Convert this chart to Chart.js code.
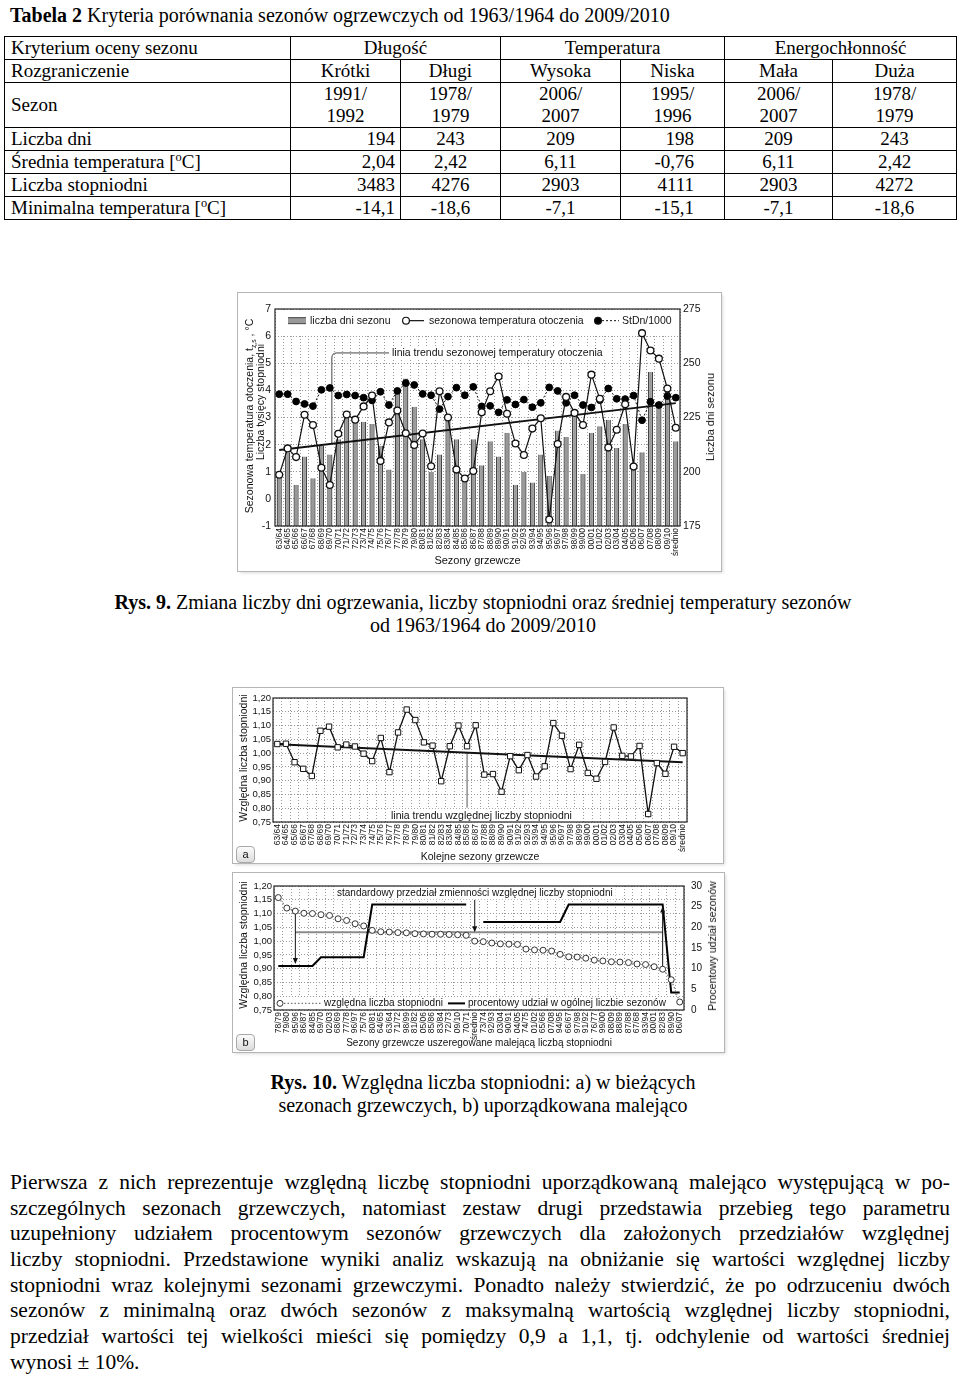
<!DOCTYPE html>
<html lang="pl">
<head>
<meta charset="utf-8">
<title>Sezony grzewcze 1963/1964 - 2009/2010</title>
<script src="https://cdn.jsdelivr.net/npm/chart.js@4.4.1/dist/chart.umd.min.js"></script>
<style>
  html, body { margin: 0; padding: 0; background: #fff; }
  body { width: 960px; height: 1380px; position: relative; overflow: hidden;
         font-family: "Liberation Serif", "Times New Roman", serif; color: #000; }
  .tytul { position: absolute; left: 10px; top: 3px; font-size: 20px; line-height: 24px; white-space: nowrap; }
  table.kryt { position: absolute; left: 4px; top: 36px; width: 952px; table-layout: fixed;
               border-collapse: collapse; font-size: 19px; }
  table.kryt td { border: 1px solid #000; padding: 0 6px; line-height: 22px; text-align: center; white-space: nowrap; }
  table.kryt td.l { text-align: left; }
  table.kryt td.p2 { text-align: right; padding-right: 5px; }
  table.kryt td.p5 { text-align: right; padding-right: 30px; }
  sup, sub { font-size: 65%; line-height: 0; }
  .rys { position: absolute; left: 0; width: 966px; text-align: center; font-size: 20px; line-height: 23px; }
  .fig { position: absolute; background: #fff; box-shadow: 0 0 0 1px #b5b5b5, 2px 2px 3px rgba(0,0,0,.15); }
  .fig canvas { position: absolute; left: 0; top: 0; }
  .vt { position: absolute; transform: translate(-50%, -50%) rotate(-90deg); white-space: nowrap;
        font-family: "Liberation Sans", Arial, sans-serif; color: #111; line-height: 12px; }
  .lit { position: absolute; width: 17px; height: 15px; border: 1px solid #a8a8a8; border-radius: 4px;
         background: linear-gradient(#fbfbfb, #dcdcdc); font: 11px "Liberation Sans", Arial, sans-serif;
         text-align: center; line-height: 15px; color: #111; }
  .akapit { position: absolute; left: 10px; top: 1170px; width: 940px; font-size: 21.5px; }
  .akapit div { height: 25.7px; line-height: 25.7px; text-align: justify; text-align-last: justify; }
  .akapit div.ost { text-align-last: left; }
</style>
</head>
<body>

<div class="tytul"><b>Tabela 2</b> Kryteria porównania sezonów ogrzewczych od 1963/1964 do 2009/2010</div>

<table class="kryt">
  <colgroup>
    <col style="width:286px"><col style="width:110px"><col style="width:100px"><col style="width:120px">
    <col style="width:104px"><col style="width:108px"><col style="width:124px">
  </colgroup>
  <tr style="height:22px"><td class="l">Kryterium oceny sezonu</td><td colspan="2">Długość</td><td colspan="2">Temperatura</td><td colspan="2">Energochłonność</td></tr>
  <tr style="height:23px"><td class="l">Rozgraniczenie</td><td>Krótki</td><td>Długi</td><td>Wysoka</td><td>Niska</td><td>Mała</td><td>Duża</td></tr>
  <tr style="height:44px"><td class="l">Sezon</td><td>1991/<br>1992</td><td>1978/<br>1979</td><td>2006/<br>2007</td><td>1995/<br>1996</td><td>2006/<br>2007</td><td>1978/<br>1979</td></tr>
  <tr style="height:22px"><td class="l">Liczba dni</td><td class="p2">194</td><td>243</td><td>209</td><td class="p5">198</td><td>209</td><td>243</td></tr>
  <tr style="height:23px"><td class="l">Średnia temperatura [<sup>o</sup>C]</td><td class="p2">2,04</td><td>2,42</td><td>6,11</td><td class="p5">-0,76</td><td>6,11</td><td>2,42</td></tr>
  <tr style="height:22px"><td class="l">Liczba stopniodni</td><td class="p2">3483</td><td>4276</td><td>2903</td><td class="p5">4111</td><td>2903</td><td>4272</td></tr>
  <tr style="height:23px"><td class="l">Minimalna temperatura [<sup>o</sup>C]</td><td class="p2">-14,1</td><td>-18,6</td><td>-7,1</td><td class="p5">-15,1</td><td>-7,1</td><td>-18,6</td></tr>
</table>

<div class="fig" style="left:238px;top:293px;width:483px;height:278px;">
  <canvas id="wyk1" width="483" height="278"></canvas>
  <div class="vt" style="left:11px;top:123px;font-size:10.5px;">Sezonowa temperatura otoczenia, t<sub>z,s</sub> , °C</div>
  <div class="vt" style="left:22px;top:109px;font-size:10.5px;">Liczba tysięcy stopniodni</div>
  <div class="vt" style="left:472px;top:124px;font-size:11px;">Liczba dni sezonu</div>
</div>

<div class="rys" style="top:591px;"><b>Rys. 9.</b> Zmiana liczby dni ogrzewania, liczby stopniodni oraz średniej temperatury sezonów<br>od 1963/1964 do 2009/2010</div>

<div class="fig" style="left:233px;top:688px;width:490px;height:175px;">
  <canvas id="wyk2" width="490" height="175"></canvas>
  <div class="vt" style="left:10px;top:70px;font-size:10.5px;">Względna liczba stopniodni</div>
  <div class="lit" style="left:3px;top:158px;">a</div>
</div>

<div class="fig" style="left:233px;top:873px;width:491px;height:179px;">
  <canvas id="wyk3" width="491" height="179"></canvas>
  <div class="vt" style="left:10px;top:72px;font-size:10.5px;">Względna liczba stopniodni</div>
  <div class="vt" style="left:479px;top:73px;font-size:10.5px;">Procentowy udział sezonów</div>
  <div class="lit" style="left:3px;top:161px;">b</div>
</div>

<div class="rys" style="top:1071px;"><b>Rys. 10.</b> Względna liczba stopniodni: a) w bieżących<br>sezonach grzewczych, b) uporządkowana malejąco</div>

<div class="akapit">
  <div>Pierwsza z nich reprezentuje względną liczbę stopniodni uporządkowaną malejąco występującą w po-</div>
  <div>szczególnych sezonach grzewczych, natomiast zestaw drugi przedstawia przebieg tego parametru</div>
  <div>uzupełniony udziałem procentowym sezonów grzewczych dla założonych przedziałów względnej</div>
  <div>liczby stopniodni. Przedstawione wyniki analiz wskazują na obniżanie się wartości względnej liczby</div>
  <div>stopniodni wraz kolejnymi sezonami grzewczymi. Ponadto należy stwierdzić, że po odrzuceniu dwóch</div>
  <div>sezonów z minimalną oraz dwóch sezonów z maksymalną wartością względnej liczby stopniodni,</div>
  <div>przedział wartości tej wielkości mieści się pomiędzy 0,9 a 1,1, tj. odchylenie od wartości średniej</div>
  <div class="ost">wynosi ± 10%.</div>
</div>

<script>
    "use strict";

    // sezony grzewcze po kolei + wartość średnia
    var sezony = ["63/64", "64/65", "65/66", "66/67", "67/68", "68/69", "69/70", "70/71", "71/72", "72/73",
        "73/74", "74/75", "75/76", "76/77", "77/78", "78/79", "79/80", "80/81", "81/82", "82/83",
        "83/84", "84/85", "85/86", "86/87", "87/88", "88/89", "89/90", "90/91", "91/92", "92/93",
        "93/94", "94/95", "95/96", "96/97", "97/98", "98/99", "99/00", "00/01", "01/02", "02/03",
        "03/04", "04/05", "05/06", "06/07", "07/08", "08/09", "09/10", "średnio"];

    // Rys. 9 - liczba dni sezonu (oś prawa)
    var dniSezonu = [199, 209, 194, 207, 197, 212, 208, 215, 225, 223,
        223, 222, 212, 201, 236, 243, 230, 215, 200, 208,
        224, 215, 197, 215, 203, 214, 207, 218, 194, 200,
        195, 208, 198, 219, 216, 227, 199, 218, 221, 224,
        211, 222, 201, 209, 246, 231, 237, 214];

    // Rys. 9 - sezonowa temperatura otoczenia [oC]
    var tempSezonu = [0.89, 1.86, 1.54, 3.10, 2.72, 1.15, 0.51, 2.40, 3.11, 2.92,
        3.41, 3.81, 1.40, 2.82, 3.26, 2.42, 1.99, 2.41, 1.20, 3.97,
        3.00, 1.08, 0.75, 1.03, 3.19, 3.97, 4.51, 3.14, 2.04, 1.62,
        2.59, 2.97, -0.76, 2.02, 3.76, 3.17, 2.72, 4.58, 3.69, 1.89,
        2.55, 3.49, 1.19, 6.11, 5.47, 5.17, 4.07, 2.62];

    // Rys. 9 - liczba stopniodni / 1000
    var stdn1000 = [3.86, 3.86, 3.59, 3.50, 3.42, 4.02, 4.09, 3.81, 3.85, 3.81,
        3.73, 3.63, 3.95, 3.46, 3.98, 4.27, 4.20, 3.87, 3.82, 3.31,
        3.77, 4.10, 3.82, 4.13, 3.41, 3.43, 3.19, 3.65, 3.48, 3.66,
        3.38, 3.54, 4.11, 3.98, 3.54, 3.82, 3.46, 3.37, 3.64, 4.07,
        3.69, 3.68, 3.81, 2.90, 3.58, 3.46, 3.79, 3.73];

    // linia trendu temperatury - poczatek i koniec
    var trendTemp = [1.80, 3.53];

    // Rys. 10a - względna liczba stopniodni w kolejnych sezonach
    var wzglednaStDn = [1.033, 1.034, 0.967, 0.943, 0.917, 1.081, 1.096, 1.021, 1.031, 1.024,
        0.998, 0.971, 1.055, 0.931, 1.075, 1.158, 1.120, 1.039, 1.027, 0.898,
        1.025, 1.100, 1.025, 1.101, 0.922, 0.924, 0.860, 0.989, 0.938, 0.993,
        0.915, 0.952, 1.109, 1.063, 0.942, 1.030, 0.928, 0.907, 0.968, 1.093,
        0.990, 0.988, 1.026, 0.779, 0.964, 0.925, 1.023, 1.000];
    var trendWzgl = [1.032, 0.967];

    // Rys. 10b - sezony uszeregowane malejąco
    var sezonyMalejaco = ["78/79", "79/80", "95/96", "86/87", "84/85", "69/70", "02/03", "68/69", "77/78", "96/97",
        "75/76", "80/81", "64/65", "63/64", "71/72", "98/99", "81/82", "05/06", "85/86", "83/84",
        "72/73", "09/10", "70/71", "średnio", "73/74", "92/93", "03/04", "90/91", "04/05", "74/75",
        "01/02", "65/66", "07/08", "94/95", "66/67", "97/98", "91/92", "76/77", "99/00", "08/09",
        "88/89", "87/88", "67/68", "93/94", "00/01", "82/83", "89/90", "06/07"];
    var wzglednaMalejaco = [1.158, 1.120, 1.109, 1.101, 1.100, 1.096, 1.093, 1.081, 1.075, 1.063,
        1.055, 1.039, 1.034, 1.033, 1.031, 1.030, 1.027, 1.026, 1.025, 1.025,
        1.024, 1.023, 1.021, 1.000, 0.998, 0.993, 0.990, 0.989, 0.988, 0.971,
        0.968, 0.967, 0.964, 0.952, 0.943, 0.942, 0.938, 0.931, 0.928, 0.925,
        0.924, 0.922, 0.917, 0.915, 0.907, 0.898, 0.860, 0.779];
    // procentowy udział w ogólnej liczbie sezonów [%]
    var udzialProc = [10.64, 10.64, 10.64, 10.64, 10.64, 12.77, 12.77, 12.77, 12.77, 12.77,
        12.77, 25.53, 25.53, 25.53, 25.53, 25.53, 25.53, 25.53, 25.53, 25.53,
        25.53, 25.53, 25.53, null, 21.28, 21.28, 21.28, 21.28, 21.28, 21.28,
        21.28, 21.28, 21.28, 21.28, 25.53, 25.53, 25.53, 25.53, 25.53, 25.53,
        25.53, 25.53, 25.53, 25.53, 25.53, 25.53, 4.26, 4.26];
    // standardowy przedział zmienności (poziom odniesienia)
    var przedzialOd = "95/96", przedzialDo = "82/83", przedzialPoziom = 1.032;

    var FONT = '"Liberation Sans", Arial, sans-serif';
    Chart.defaults.font.family = FONT;
    Chart.defaults.color = "#111";
    Chart.defaults.animation = false;
    Chart.defaults.plugins.legend.display = false;
    Chart.defaults.plugins.tooltip.enabled = false;

    var siatka = { color: "#9a9a9a", lineWidth: 1, drawTicks: false };
    var kreski = { display: false, dash: [1, 2] };
    var przecinek = function (v) { return v.toFixed(2).replace(".", ","); };

    // helpers for drawing on canvas
    function napis(c, txt, x, y, size, tlo) {
        c.font = size + "px " + FONT;
        c.textBaseline = "middle";
        c.textAlign = "left";
        if (tlo) {
            var w = c.measureText(txt).width;
            c.fillStyle = "#fff";
            c.fillRect(x - 3, y - size * 0.65, w + 6, size * 1.3);
        }
        c.fillStyle = "#111";
        c.fillText(txt, x, y);
    }
    function kolko(c, x, y, r, fill) {
        c.beginPath();
        c.arc(x, y, r, 0, Math.PI * 2);
        c.fillStyle = fill;
        c.fill();
        c.strokeStyle = "#111";
        c.lineWidth = 1.2;
        c.stroke();
    }
    function strzalka(c, x, y1, y2) {
        var d = y2 > y1 ? 1 : -1;
        c.beginPath();
        c.moveTo(x, y1);
        c.lineTo(x, y2 - d * 5);
        c.stroke();
        c.beginPath();
        c.moveTo(x, y2);
        c.lineTo(x - 2.5, y2 - d * 6);
        c.lineTo(x + 2.5, y2 - d * 6);
        c.closePath();
        c.fill();
    }
    // y of the trend line at pixel px
    function naTrendzie(chart, idx, px) {
        var pts = chart.getDatasetMeta(idx).data;
        var p0 = pts[0], p1 = pts[pts.length - 1];
        return p0.y + (p1.y - p0.y) * (px - p0.x) / (p1.x - p0.x);
    }
    var ramka = {
        id: "ramka",
        afterDraw: function (chart) {
            var a = chart.chartArea, c = chart.ctx;
            c.save();
            c.strokeStyle = "#222";
            c.lineWidth = 1.2;
            c.strokeRect(a.left, a.top, a.right - a.left, a.bottom - a.top);
            c.restore();
        }
    };
    function osX(tytul, size, pad, h) {
        return {
            type: "category",
            offset: true,
            grid: { color: "#9a9a9a", lineWidth: 1, drawTicks: false, offset: true },
            border: kreski,
            ticks: { autoSkip: false, maxRotation: 90, minRotation: 90, font: { size: 8.5 }, padding: 2 },
            title: { display: true, text: tytul, font: { size: size }, padding: { top: 0, bottom: pad } },
            afterFit: function (s) { s.height = h; }
        };
    }

    // Rys. 9
    var opis1 = {
        id: "opis1",
        beforeDatasetsDraw: function (chart) {
            var a = chart.chartArea, c = chart.ctx, yT = chart.scales.yT, x = chart.scales.x;
            c.save();
            c.fillStyle = "#fff";
            c.fillRect(a.left + 1, a.top + 1, a.right - a.left - 2, yT.getPixelForValue(6) - a.top - 1.5);

            var ly = yT.getPixelForValue(6.57);
            c.fillStyle = "#999";
            c.fillRect(a.left + 13, ly - 3, 18, 6);
            c.strokeStyle = "#444";
            c.lineWidth = 1;
            c.beginPath();
            c.moveTo(a.left + 13, ly - 3); c.lineTo(a.left + 31, ly - 3);
            c.moveTo(a.left + 13, ly + 3); c.lineTo(a.left + 31, ly + 3);
            c.stroke();
            napis(c, "liczba dni sezonu", a.left + 35, ly, 10.5);

            c.strokeStyle = "#111";
            c.lineWidth = 1.2;
            c.beginPath(); c.moveTo(a.left + 131, ly); c.lineTo(a.left + 149, ly); c.stroke();
            kolko(c, a.left + 131, ly, 3.4, "#fff");
            napis(c, "sezonowa temperatura otoczenia", a.left + 154, ly, 10.5);

            c.strokeStyle = "#111";
            c.lineWidth = 1;
            c.setLineDash([2, 2]);
            c.beginPath(); c.moveTo(a.left + 323, ly); c.lineTo(a.left + 344, ly); c.stroke();
            c.setLineDash([]);
            kolko(c, a.left + 323, ly, 3.4, "#000");
            napis(c, "StDn/1000", a.left + 347, ly, 10.5);

            // opis linii trendu
            var ty = yT.getPixelForValue(5.38), tx = a.left + 117;
            napis(c, "linia trendu sezonowej temperatury otoczenia", tx, ty, 10.5, true);
            var lx = x.getPixelForValue(6) + 2;
            var tr = naTrendzie(chart, 2, lx);
            c.strokeStyle = "#444";
            c.lineWidth = 1;
            c.beginPath();
            c.moveTo(tx - 3, ty);
            c.lineTo(lx + 5, ty);
            c.quadraticCurveTo(lx, ty, lx, ty + 5);
            c.lineTo(lx, tr);
            c.stroke();
            c.restore();
        }
    };

    new Chart(document.getElementById("wyk1"), {
        data: {
            labels: sezony,
            datasets: [
                {
                    type: "line", label: "sezonowa temperatura otoczenia", data: tempSezonu, yAxisID: "yT", order: 0,
                    borderColor: "#111", borderWidth: 1.2, pointRadius: 3.4, pointBorderWidth: 1.3,
                    pointBackgroundColor: "#fff", pointBorderColor: "#111"
                },
                {
                    type: "line", label: "StDn/1000", data: stdn1000, yAxisID: "yT", order: 1,
                    borderColor: "#111", borderWidth: 1, borderDash: [2, 2], pointRadius: 3.4,
                    pointBackgroundColor: "#000", pointBorderColor: "#000"
                },
                {
                    type: "line", label: "linia trendu", yAxisID: "yT", order: 2,
                    data: [{ x: sezony[0], y: trendTemp[0] }, { x: sezony[sezony.length - 1], y: trendTemp[1] }],
                    borderColor: "#111", borderWidth: 2, pointRadius: 0
                },
                {
                    type: "bar", label: "liczba dni sezonu", data: dniSezonu, yAxisID: "yD", order: 3, base: 175,
                    backgroundColor: "#999", borderColor: "#444",
                    borderWidth: { left: 1.3, right: 1.3, top: 0, bottom: 0 },
                    barPercentage: 0.62, categoryPercentage: 1
                }
            ]
        },
        options: {
            responsive: false,
            layout: { padding: { top: 16 } },
            scales: {
                x: osX("Sezony grzewcze", 11, 3, 45),
                yT: {
                    type: "linear", position: "left", min: -1, max: 7,
                    ticks: { stepSize: 1, autoSkip: false, font: { size: 10.5 }, padding: 4 },
                    grid: siatka, border: kreski,
                    afterFit: function (s) { s.width = 37; }
                },
                yD: {
                    type: "linear", position: "right", min: 175, max: 275,
                    ticks: { stepSize: 25, autoSkip: false, font: { size: 10.5 }, padding: 3 },
                    grid: { display: false, drawTicks: false }, border: { display: false },
                    afterFit: function (s) { s.width = 41; }
                }
            }
        },
        plugins: [opis1, ramka]
    });

    // Rys. 10a
    var opis2 = {
        id: "opis2",
        beforeDatasetsDraw: function (chart) {
            var a = chart.chartArea, c = chart.ctx, y = chart.scales.y, x = chart.scales.x;
            c.save();
            var ty = y.getPixelForValue(0.773), tx = a.left + 118;
            napis(c, "linia trendu względnej liczby stopniodni", tx, ty, 10.5, true);
            var lx = x.getPixelForValue(22);
            c.strokeStyle = "#555";
            c.lineWidth = 1;
            c.beginPath();
            c.moveTo(lx, naTrendzie(chart, 1, lx));
            c.lineTo(lx, ty - 8);
            c.stroke();
            c.restore();
        }
    };

    new Chart(document.getElementById("wyk2"), {
        data: {
            labels: sezony,
            datasets: [
                {
                    type: "line", label: "względna liczba stopniodni", data: wzglednaStDn, order: 0,
                    borderColor: "#111", borderWidth: 1.3, pointStyle: "rect", pointRadius: 3.8,
                    pointBackgroundColor: "#fff", pointBorderColor: "#111", pointBorderWidth: 1
                },
                {
                    type: "line", label: "linia trendu", order: 1,
                    data: [{ x: sezony[0], y: trendWzgl[0] }, { x: sezony[sezony.length - 1], y: trendWzgl[1] }],
                    borderColor: "#111", borderWidth: 2, pointRadius: 0
                }
            ]
        },
        options: {
            responsive: false,
            layout: { padding: { top: 10, right: 36 } },
            scales: {
                x: osX("Kolejne sezony grzewcze", 10.5, 0, 41),
                y: {
                    type: "linear", position: "left", min: 0.75, max: 1.2,
                    ticks: { stepSize: 0.05, autoSkip: false, callback: przecinek, font: { size: 9.5 }, padding: 2 },
                    grid: siatka, border: kreski,
                    afterFit: function (s) { s.width = 40; }
                }
            }
        },
        plugins: [opis2, ramka]
    });

    // Rys. 10b
    var opis3 = {
        id: "opis3",
        beforeDatasetsDraw: function (chart) {
            var a = chart.chartArea, c = chart.ctx, yS = chart.scales.yS;
            c.save();
            var yb = yS.getPixelForValue(0.797);
            c.fillStyle = "#fff";
            c.fillRect(a.left + 1, yb, a.right - a.left - 2, a.bottom - 1 - yb);

            var ly = yS.getPixelForValue(0.774);
            c.strokeStyle = "#777";
            c.lineWidth = 1.2;
            c.setLineDash([1.5, 2]);
            c.beginPath(); c.moveTo(a.left + 10, ly); c.lineTo(a.left + 48, ly); c.stroke();
            c.setLineDash([]);
            c.beginPath(); c.arc(a.left + 6, ly, 3, 0, Math.PI * 2);
            c.fillStyle = "#fff"; c.fill();
            c.strokeStyle = "#333"; c.lineWidth = 1; c.stroke();
            napis(c, "względna liczba stopniodni", a.left + 50, ly, 10);
            c.strokeStyle = "#000";
            c.lineWidth = 2;
            c.beginPath(); c.moveTo(a.left + 174, ly); c.lineTo(a.left + 191, ly); c.stroke();
            napis(c, "procentowy udział w ogólnej liczbie sezonów", a.left + 194, ly, 10);

            napis(c, "standardowy przedział zmienności względnej liczby stopniodni",
                a.left + 63, yS.getPixelForValue(1.175), 10, true);
            c.restore();
        },
        afterDatasetsDraw: function (chart) {
            var c = chart.ctx, x = chart.scales.x, yS = chart.scales.yS, yP = chart.scales.yP;
            var i1 = sezonyMalejaco.indexOf(przedzialOd), i2 = sezonyMalejaco.indexOf(przedzialDo);
            var iS = sezonyMalejaco.indexOf("średnio");
            c.save();
            c.strokeStyle = "#111";
            c.fillStyle = "#111";
            c.lineWidth = 1;
            strzalka(c, x.getPixelForValue(i1), yS.getPixelForValue(wzglednaMalejaco[i1]) + 3,
                yP.getPixelForValue(udzialProc[i1]) - 2);
            strzalka(c, x.getPixelForValue(iS), yS.getPixelForValue(1.175) + 7, yS.getPixelForValue(przedzialPoziom));
            strzalka(c, x.getPixelForValue(i2), yS.getPixelForValue(wzglednaMalejaco[i2]) - 3,
                yP.getPixelForValue(udzialProc[i2]) + 2);
            c.restore();
        }
    };

    new Chart(document.getElementById("wyk3"), {
        data: {
            labels: sezonyMalejaco,
            datasets: [
                {
                    type: "line", label: "względna liczba stopniodni", data: wzglednaMalejaco, yAxisID: "yS", order: 0,
                    borderColor: "#777", borderWidth: 1.2, borderDash: [1.5, 2], pointRadius: 3,
                    pointBackgroundColor: "#fff", pointBorderColor: "#333", pointBorderWidth: 1
                },
                {
                    type: "line", label: "procentowy udział w ogólnej liczbie sezonów", data: udzialProc,
                    yAxisID: "yP", order: 1, borderColor: "#000", borderWidth: 2, pointRadius: 0, spanGaps: false
                },
                {
                    type: "line", label: "standardowy przedział", yAxisID: "yS", order: 2,
                    data: [{ x: przedzialOd, y: przedzialPoziom }, { x: przedzialDo, y: przedzialPoziom }],
                    borderColor: "#8c8c8c", borderWidth: 2, pointRadius: 0
                }
            ]
        },
        options: {
            responsive: false,
            layout: { padding: { top: 12 } },
            scales: {
                x: osX("Sezony grzewcze uszeregowane malejącą liczbą stopniodni", 10, 2.5, 42),
                yS: {
                    type: "linear", position: "left", min: 0.75, max: 1.2,
                    ticks: { stepSize: 0.05, autoSkip: false, callback: przecinek, font: { size: 9.5 }, padding: 2 },
                    grid: siatka, border: kreski,
                    afterFit: function (s) { s.width = 41; }
                },
                yP: {
                    type: "linear", position: "right", min: 0, max: 30,
                    ticks: { stepSize: 5, autoSkip: false, font: { size: 10 }, padding: 7 },
                    grid: { display: false, drawTicks: false }, border: { display: false },
                    afterFit: function (s) { s.width = 40; }
                }
            }
        },
        plugins: [opis3, ramka]
    });
</script>
</body>
</html>
